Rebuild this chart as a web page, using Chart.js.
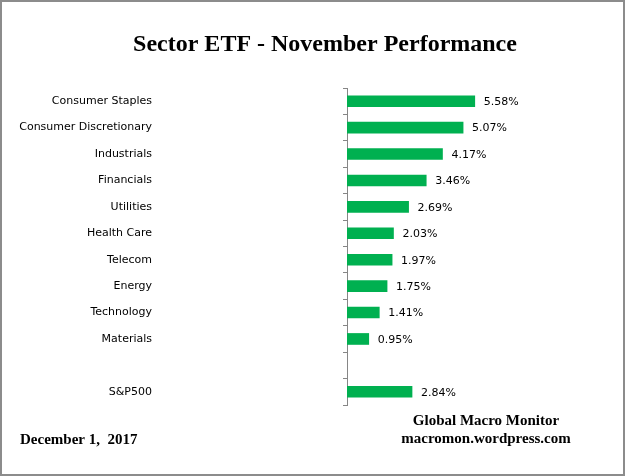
<!DOCTYPE html>
<html>
<head>
<meta charset="utf-8">
<script src="https://cdn.jsdelivr.net/npm/chart.js@4"></script>
<style>
  html, body { margin: 0; padding: 0; background: #fff; }
  #wrap { width: 625px; height: 476px; position: relative; }
</style>
</head>
<body>
<div id="wrap"><canvas id="graph1" width="625" height="476"></canvas></div>
<script>
// Sector ETF data (blank row separates S&P500)
const sectors = ['Consumer Staples', 'Consumer Discretionary', 'Industrials', 'Financials', 'Utilities',
    'Health Care', 'Telecom', 'Energy', 'Technology', 'Materials', '', 'S&P500'];
const novReturns = [5.58, 5.07, 4.17, 3.46, 2.69, 2.03, 1.97, 1.75, 1.41, 0.95, null, 2.84];

const titleText = 'Sector ETF - November Performance';
const dateText = 'December 1,  2017';
const sourceLines = ['Global Macro Monitor', 'macromon.wordpress.com'];

const green = '#00B050';
const labelFont = '11px "DejaVu Sans"';

// titles, footer text, outer border
const decorations = {
    id: 'decorations',
    afterDraw(chart) {
        const c = chart.ctx;
        c.save();
        c.strokeStyle = '#8c8c8c';
        c.lineWidth = 2;
        c.strokeRect(1, 1, 623, 474);
        c.fillStyle = '#000';
        c.textBaseline = 'middle';
        c.textAlign = 'center';
        c.font = 'bold 24px "Liberation Serif"';
        c.fillText(titleText, 325, 45);
        c.font = 'bold 15px "Liberation Serif"';
        c.textAlign = 'left';
        c.fillText(dateText, 20, 440);
        c.textAlign = 'center';
        c.fillText(sourceLines[0], 486, 421);
        c.fillText(sourceLines[1], 486, 439);
        c.restore();
    }
};

// value labels to the right of each bar
const valueLabels = {
    id: 'valueLabels',
    afterDatasetsDraw(chart) {
        const c = chart.ctx;
        const meta = chart.getDatasetMeta(0);
        c.save();
        c.font = labelFont;
        c.fillStyle = '#000';
        c.textBaseline = 'middle';
        c.textAlign = 'left';
        meta.data.forEach((bar, i) => {
            const v = novReturns[i];
            if (v === null) return;
            c.fillText(v.toFixed(2) + '%', bar.x + 9, bar.y + 1);
        });
        c.restore();
    }
};

const ctx1 = document.getElementById('graph1').getContext('2d');
new Chart(ctx1, {
    type: 'bar',
    data: {
        labels: sectors,
        datasets: [{
            data: novReturns,
            backgroundColor: green,
            borderWidth: 0,
            barThickness: 11
        }]
    },
    options: {
        indexAxis: 'y',
        responsive: false,
        animation: false,
        layout: { padding: { top: 88, bottom: 71, left: 10, right: 49 } },
        plugins: {
            legend: { display: false },
            title: { display: false },
            tooltip: { enabled: false }
        },
        scales: {
            x: {
                display: false,
                min: 0,
                max: 10
            },
            y: {
                afterFit(scale) {
                    scale.width = 337;
                    scale.paddingTop = 0;
                    scale.paddingBottom = 0;
                },
                border: { display: true, color: '#868686', width: 1 },
                grid: {
                    display: true,
                    drawOnChartArea: false,
                    drawTicks: true,
                    tickLength: 4,
                    offset: true,
                    color: '#868686'
                },
                ticks: {
                    padding: 191,
                    color: '#000',
                    font: { family: 'DejaVu Sans', size: 11 },
                    autoSkip: false
                }
            }
        }
    },
    plugins: [decorations, valueLabels]
});
</script>
</body>
</html>
